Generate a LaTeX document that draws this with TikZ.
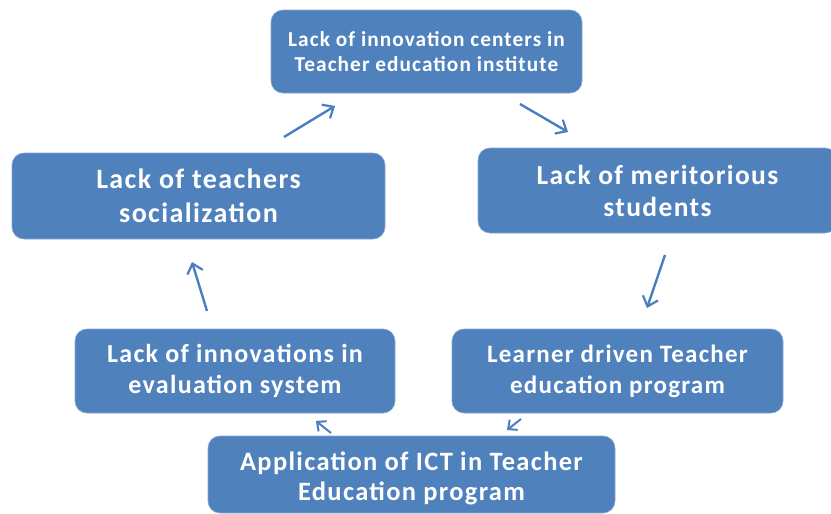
\documentclass[tikz,border=0pt]{standalone}
\usepackage{fontspec}
\setmainfont{Carlito}[LetterSpace=5]
\usetikzlibrary{arrows.meta}
\definecolor{boxblue}{HTML}{4F81BD}
\definecolor{arrowblue}{HTML}{4A7EC0}
\begin{document}
\begin{tikzpicture}[x=1pt,y=-1pt,
  cyclebox/.style={fill=boxblue, draw=boxblue!70!white, line width=0.6pt,
    rounded corners=12pt, text=white, align=center,
    inner sep=0pt},
  stagetext/.style={text=white, align=center, inner sep=0pt},
  flow/.style={draw=arrowblue, line width=2.4pt,
    -{Straight Barb[length=9pt,width=16pt,line width=2.2pt]}},
  smallflow/.style={draw=arrowblue, line width=2pt,
    -{Straight Barb[length=7pt,width=13pt,line width=2pt]}}]
\useasboundingbox (0,0) rectangle (831,514);

% six stages of the cycle
\node[cyclebox, minimum width=311pt, minimum height=83pt,
  font=\bfseries\fontsize{21.3}{25}\selectfont]
  (centers) at (426.5,51.5)
  {Lack of innovation centers in\\Teacher education institute};
\node[cyclebox, minimum width=359pt, minimum height=85pt,
  font=\bfseries\fontsize{27.5}{32}\selectfont]
  (merit) at (657.5,190.5)
  {Lack of meritorious\\students};
\node[cyclebox, minimum width=331pt, minimum height=84pt,
  font=\bfseries\fontsize{25}{31}\selectfont]
  (learner) at (617.5,371)
  {Learner driven Teacher\\education program};
% bottom stage: its text sits a little below the box centre
\node[cyclebox, minimum width=407pt, minimum height=77pt]
  (ict) at (411.5,474.5) {};
\node[stagetext, font=\bfseries\fontsize{26.5}{30}\selectfont]
  (icttext) at ([yshift=-4pt]ict.center)
  {Application of ICT in Teacher\\Education program};
\node[cyclebox, minimum width=320pt, minimum height=84pt,
  font=\bfseries\fontsize{26}{31}\selectfont]
  (evaluation) at (235,371)
  {Lack of innovations in\\evaluation system};
\node[cyclebox, minimum width=373pt, minimum height=86pt,
  font=\bfseries\fontsize{28}{34}\selectfont]
  (social) at (198.5,196)
  {Lack of teachers\\socialization};

% free-standing arrows between the stages
\coordinate (s1) at (284,137);  \coordinate (e1) at (335,106);
\coordinate (s2) at (520,104);  \coordinate (e2) at (568,132);
\coordinate (s3) at (665,255);  \coordinate (e3) at (647,308);
\coordinate (s4) at (521,419);  \coordinate (e4) at (507,430);
\coordinate (s5) at (331,433);  \coordinate (e5) at (316,421);
\coordinate (s6) at (207,311);  \coordinate (e6) at (192,262);

\draw[flow] (s1) -- (e1);
\draw[flow] (s2) -- (e2);
\draw[flow] (s3) -- (e3);
\draw[smallflow] (s4) -- (e4);
\draw[smallflow] (s5) -- (e5);
\draw[flow] (s6) -- (e6);
\end{tikzpicture}
\end{document}
